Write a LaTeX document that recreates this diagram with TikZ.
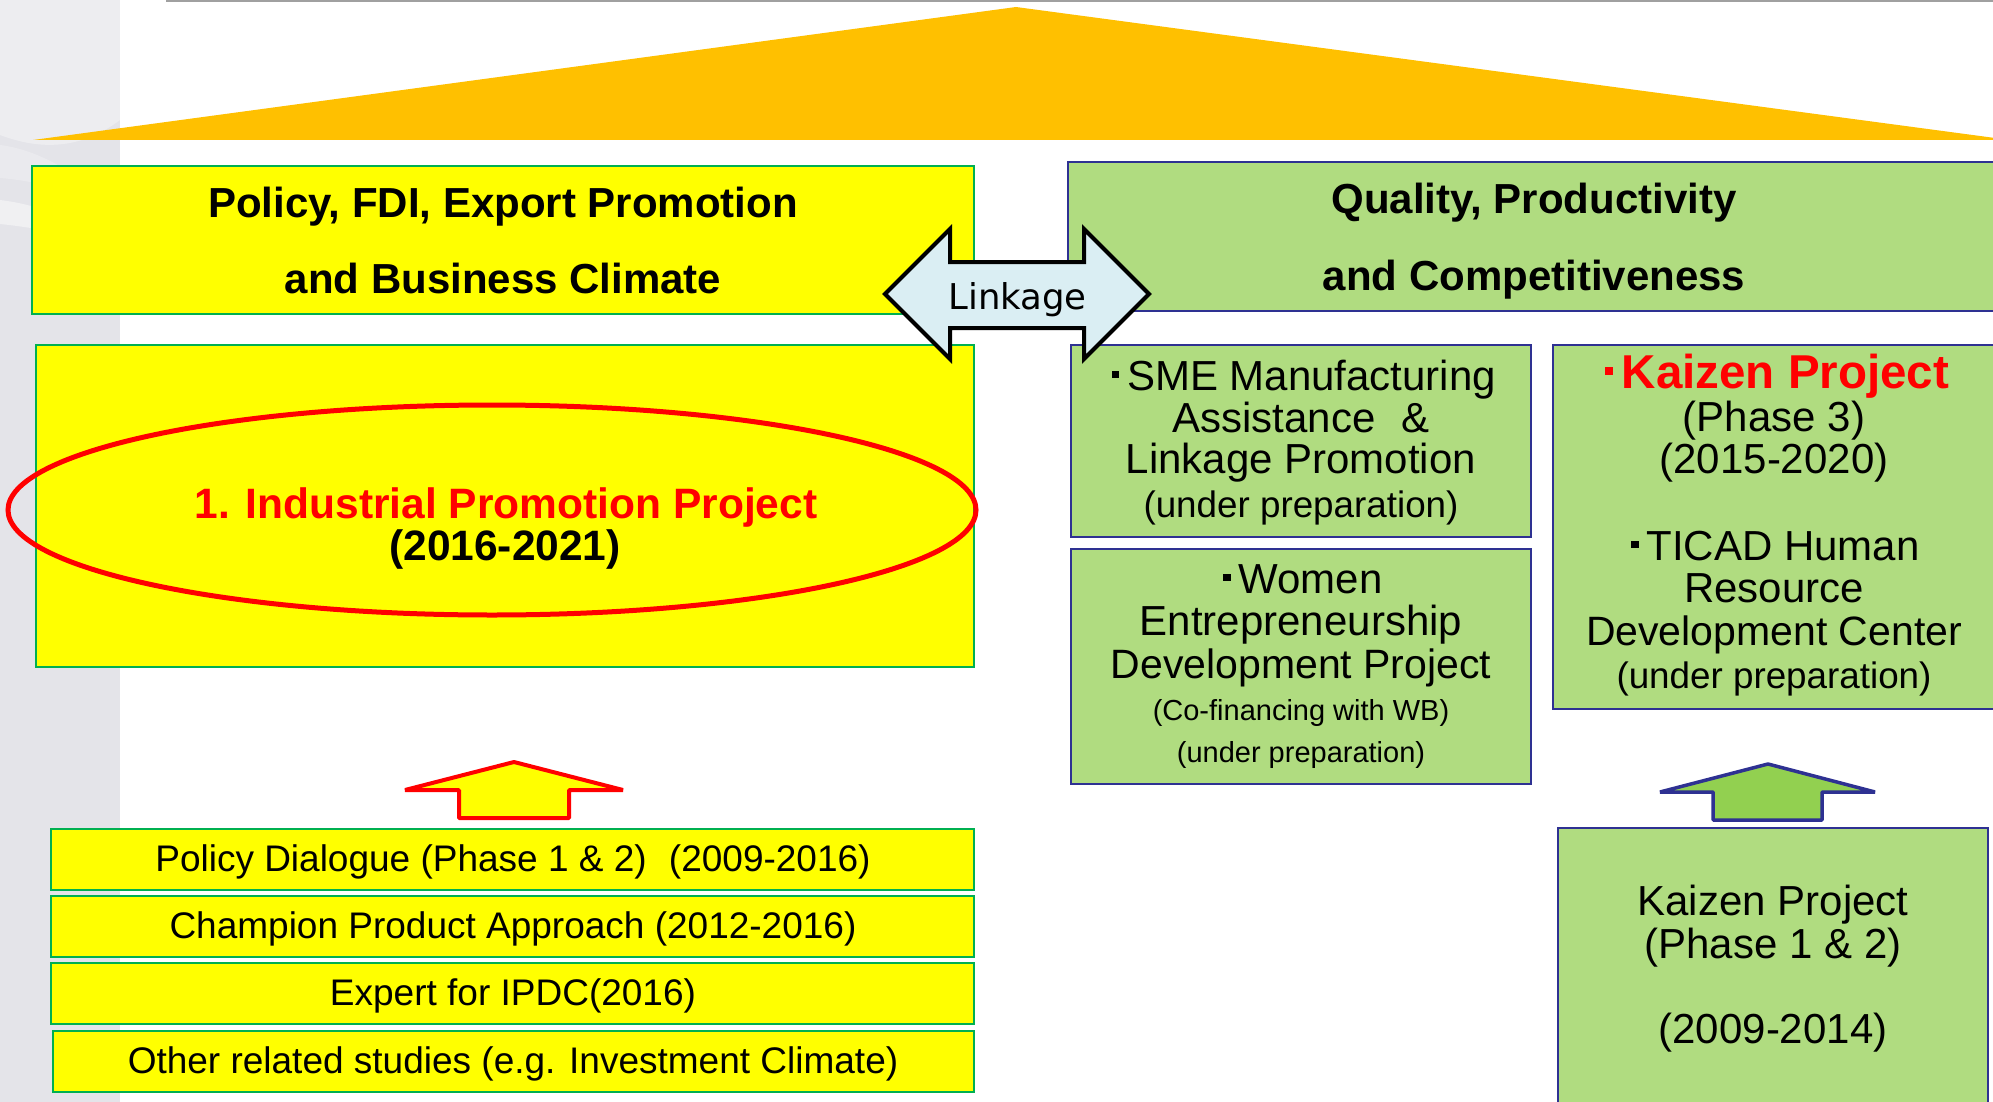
\documentclass[tikz,border=0pt]{standalone}
\usepackage{fontspec}
\setmainfont{Liberation Sans}
\newfontfamily\lkfont{DejaVu Sans}
\usetikzlibrary{shapes.geometric}
\definecolor{yel}{RGB}{255,255,0}
\definecolor{ygreen}{RGB}{0,176,80}
\definecolor{lgreen}{RGB}{176,220,128}
\definecolor{dblue}{RGB}{46,49,146}
\definecolor{roofc}{RGB}{255,192,0}
\definecolor{lblue}{RGB}{218,238,243}
\definecolor{agreen}{RGB}{146,208,80}
\definecolor{bggray}{RGB}{228,228,233}
\definecolor{topline}{RGB}{160,160,160}
\definecolor{myred}{RGB}{255,0,0}
\newcommand\myfs[1]{\fontsize{#1}{#1}\selectfont}
\newcommand\jdot{\rule[0.28em]{0.17em}{0.17em}\hspace{0.19em}}
\begin{document}
\begin{tikzpicture}[x=1pt,y=-1pt,
  ybox/.style={draw=ygreen,fill=yel,line width=2.5pt,inner sep=0pt},
  gbox/.style={draw=dblue,fill=lgreen,line width=2.5pt,inner sep=0pt},
  txt/.style={anchor=base,inner sep=0pt,text=black},
  hdr/.style={txt,font=\bfseries\myfs{42}},
  body/.style={txt,font=\myfs{42}},
  dev/.style={txt,font=\myfs{41}},
  small/.style={txt,font=\myfs{29}},
  mid/.style={txt,font=\myfs{36.8}},
  strip/.style={txt,font=\myfs{37}},
  uparrowR/.style={fill=yel,draw=myred,line width=4pt,line join=bevel},
  uparrowG/.style={fill=agreen,draw=dblue,line width=3.5pt,line join=bevel}]
\useasboundingbox (0,0) rectangle (1993,1102);
\clip (0,0) rectangle (1993,1102);
\fill[white] (0,0) rectangle (1993,1102);
% left background band
\fill[bggray] (0,0) rectangle (120,1102);
\fill[white,opacity=0.35] (0,0) -- (120,0) -- (120,120) .. controls (80,150) and (40,150) .. (0,135) -- cycle;
\fill[white,opacity=0.25] (0,145) .. controls (40,150) and (80,175) .. (110,205) .. controls (70,190) and (30,180) .. (0,178) -- cycle;
\fill[white,opacity=0.45] (0,200) .. controls (40,205) and (70,218) .. (95,240) .. controls (60,233) and (30,227) .. (0,224) -- cycle;
% top line
\draw[topline,line width=2pt] (166,1) -- (1993,1);
% roof
\fill[roofc] (33,140) -- (1016,7) -- (2010,140) -- cycle;

% header boxes
\node[ybox,minimum width=942pt,minimum height=148pt] (hdrL) at (503,240) {};
\node[gbox,minimum width=932pt,minimum height=149pt] (hdrR) at (1534,236.5) {};
\node[hdr] (hL1) at (503,217) {Policy, FDI, Export Promotion};
\node[hdr] (hL2) at (503,293) {and Business Climate};
\node[hdr] (hR1) at (1534,213) {Quality, Productivity};
\node[hdr] (hR2) at (1534,290) {and Competitiveness};

% left big box with ellipse
\node[ybox,minimum width=938pt,minimum height=322pt] (ipp) at (505,506) {};
\node[ellipse,draw=myred,line width=5pt,minimum width=968pt,minimum height=210pt,inner sep=0pt] (ell) at (492,510) {};
\node[txt,font=\bfseries\myfs{42.5},text=myred] (ipp1) at (506,518) {1. Industrial Promotion Project};
\node[txt,font=\bfseries\myfs{42.5}] (ipp2) at (505,560) {(2016-2021)};

% right boxes
\node[gbox,minimum width=460pt,minimum height=192pt] (sme) at (1301,441) {};
\node[body] (sme1) at (1304,390) {\jdot SME Manufacturing};
\node[body] (sme2) at (1301,432) {Assistance\hspace{0.62em}\&};
\node[body] (sme3) at (1301,473) {Linkage Promotion};
\node[mid] (sme4) at (1301,517) {(under preparation)};

\node[gbox,minimum width=460pt,minimum height=235pt] (wom) at (1301,666.5) {};
\node[body] (wom1) at (1303,593) {\jdot Women};
\node[body] (wom2) at (1301,635) {Entrepreneurship};
\node[dev] (wom3) at (1301,678) {Development Project};
\node[small] (wom4) at (1301,720) {(Co-financing with WB)};
\node[small] (wom5) at (1301,762) {(under preparation)};

\node[gbox,minimum width=442pt,minimum height=364pt] (kz3) at (1774,527) {};
\node[txt,font=\bfseries\myfs{47.5},text=myred] (kz31) at (1777,388) {\jdot Kaizen Project};
\node[body] (kz32) at (1774,431) {(Phase 3)};
\node[body] (kz33) at (1774,473) {(2015-2020)};
\node[body] (kz34) at (1775.5,560) {\jdot TICAD Human};
\node[body] (kz35) at (1774,602) {Resource};
\node[dev] (kz36) at (1774,645) {Development Center};
\node[mid] (kz37) at (1774,688) {(under preparation)};

% linkage double arrow
\draw[fill=lblue,draw=black,line width=4pt,line join=miter]
  (885,294) -- (950,229) -- (950,262) -- (1084,262) -- (1084,229) -- (1149,294)
  -- (1084,359) -- (1084,328) -- (950,328) -- (950,359) -- cycle;
\node[txt,font=\lkfont\myfs{35.5}] (link) at (1017.5,309) {Linkage};

% up arrows
\draw[uparrowR] (405,790) -- (514,762) -- (623,790) -- (569,790) -- (569,818) -- (459,818) -- (459,790) -- cycle;
\draw[uparrowG] (1660,792) -- (1768,764) -- (1875,792) -- (1822,792) -- (1822,820) -- (1713,820) -- (1713,792) -- cycle;

% bottom left strips
\node[ybox,minimum width=923pt,minimum height=61pt] (s1) at (512.5,859.5) {};
\node[ybox,minimum width=923pt,minimum height=61pt] (s2) at (512.5,926.5) {};
\node[ybox,minimum width=923pt,minimum height=61pt] (s3) at (512.5,993.5) {};
\node[ybox,minimum width=921pt,minimum height=61pt] (s4) at (513.5,1061.5) {};
\node[strip] (s1t) at (513,871.5) {Policy Dialogue (Phase 1 \& 2)\hspace{0.6em}(2009-2016)};
\node[strip] (s2t) at (513,938) {Champion Product Approach (2012-2016)};
\node[strip] (s3t) at (513,1005) {Expert for IPDC(2016)};
\node[strip] (s4t) at (513,1073) {Other related studies (e.g. Investment Climate)};

% Kaizen phase 1&2
\node[gbox,minimum width=430pt,minimum height=287pt] (kz12) at (1773,971.5) {};
\node[body] (kz121) at (1773,915) {Kaizen Project};
\node[body] (kz122) at (1773,958) {(Phase 1 \& 2)};
\node[body] (kz123) at (1773,1043) {(2009-2014)};
\end{tikzpicture}
\end{document}
